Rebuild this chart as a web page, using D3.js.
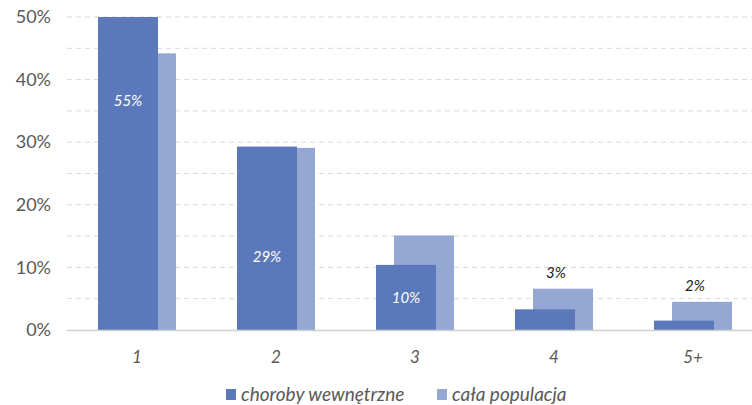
<!DOCTYPE html>
<html><head><meta charset="utf-8">
<script src="https://cdn.jsdelivr.net/npm/d3@7"></script>
<style>body{margin:0;background:#fff;}svg{display:block;font-family:Lato,"Open Sans",sans-serif;}</style>
</head><body><svg id="c" width="752" height="405"></svg>
<script>
const categories = ["1","2","3","4","5+"];
const seriesNames = ["choroby wewnętrzne","cała populacja"];
const internal = [55, 29.3, 10.4, 3.3, 1.5];
const population = [44.2, 29.1, 15.1, 6.6, 4.5];
const labelTexts = ["55%","29%","10%","3%","2%"];
const labelAt = [36.6, 11.7, 5.1, 9.1, 7.0];
const yTicks = [0,10,20,30,40,50];
const gridTicks = [5,10,15,20,25,30,35,40,45,50];

const svg = d3.select("#c");
const y = d3.scaleLinear().domain([0,50]).range([330,17]);
const x = d3.scaleBand().domain(categories).range([67.5,762.5]).paddingInner(0).paddingOuter(0);
const bw = 60, off = 18;
const dark = "#5a78ba", light = "#95a8d4";

svg.append("g").selectAll("line").data(gridTicks).join("line")
  .attr("x1",67).attr("x2",752).attr("y1",d=>y(d)).attr("y2",d=>y(d))
  .attr("stroke","#d9d9d9").attr("stroke-width",1).attr("stroke-dasharray","5,4");

const yAxis = d3.axisLeft(y).tickValues(yTicks).tickFormat(d=>d+"%").tickSize(0).tickPadding(0);
const ga = svg.append("g").attr("transform","translate(51,0)").call(yAxis);
ga.select(".domain").remove();
ga.selectAll("text").attr("font-size",18).attr("fill","#595959").attr("font-family","Lato");

svg.append("g").selectAll("rect").data(population).join("rect")
  .attr("x",(d,i)=>x(categories[i])+x.bandwidth()/2-39+off)
  .attr("width",bw).attr("y",d=>y(Math.min(d,50))).attr("height",d=>y(0)-y(Math.min(d,50)))
  .attr("fill",light);
svg.append("g").selectAll("rect").data(internal).join("rect")
  .attr("x",(d,i)=>x(categories[i])+x.bandwidth()/2-39)
  .attr("width",bw).attr("y",d=>y(Math.min(d,50))).attr("height",d=>y(0)-y(Math.min(d,50)))
  .attr("fill",dark);

svg.append("line").attr("x1",67).attr("x2",752).attr("y1",y(0)+0.5).attr("y2",y(0)+0.5)
  .attr("stroke","#d0d0d0").attr("stroke-width",1.5);

svg.append("g").selectAll("text").data(labelTexts).join("text")
  .attr("x",(d,i)=>x(categories[i])+x.bandwidth()/2-39+(i<3?bw/2:bw/2+11))
  .attr("y",(d,i)=>y(labelAt[i]))
  .attr("dy","0.35em").attr("text-anchor","middle")
  .attr("font-size",15).attr("font-style","italic")
  .attr("fill",(d,i)=>i<3?"#ffffff":"#1a1a1a").text(d=>d);

const xAxis = d3.axisBottom(x).tickSize(0).tickPadding(0);
const gx = svg.append("g").attr("transform","translate(0,351)").call(xAxis);
gx.select(".domain").remove();
gx.selectAll("text").attr("font-size",17).attr("font-style","italic").attr("fill","#595959")
  .attr("dy","0.71em").attr("font-family","Lato");

const lg = svg.append("g");
const legX = [226, 437];
seriesNames.forEach((n,i)=>{
  lg.append("rect").attr("x",legX[i]).attr("y",389).attr("width",10).attr("height",11).attr("fill",i?light:dark);
  lg.append("text").attr("x",legX[i]+15).attr("y",394.5).attr("dy","0.35em")
    .attr("font-size",19).attr("font-style","italic").attr("fill","#595959").text(n);
});
</script></body></html>
